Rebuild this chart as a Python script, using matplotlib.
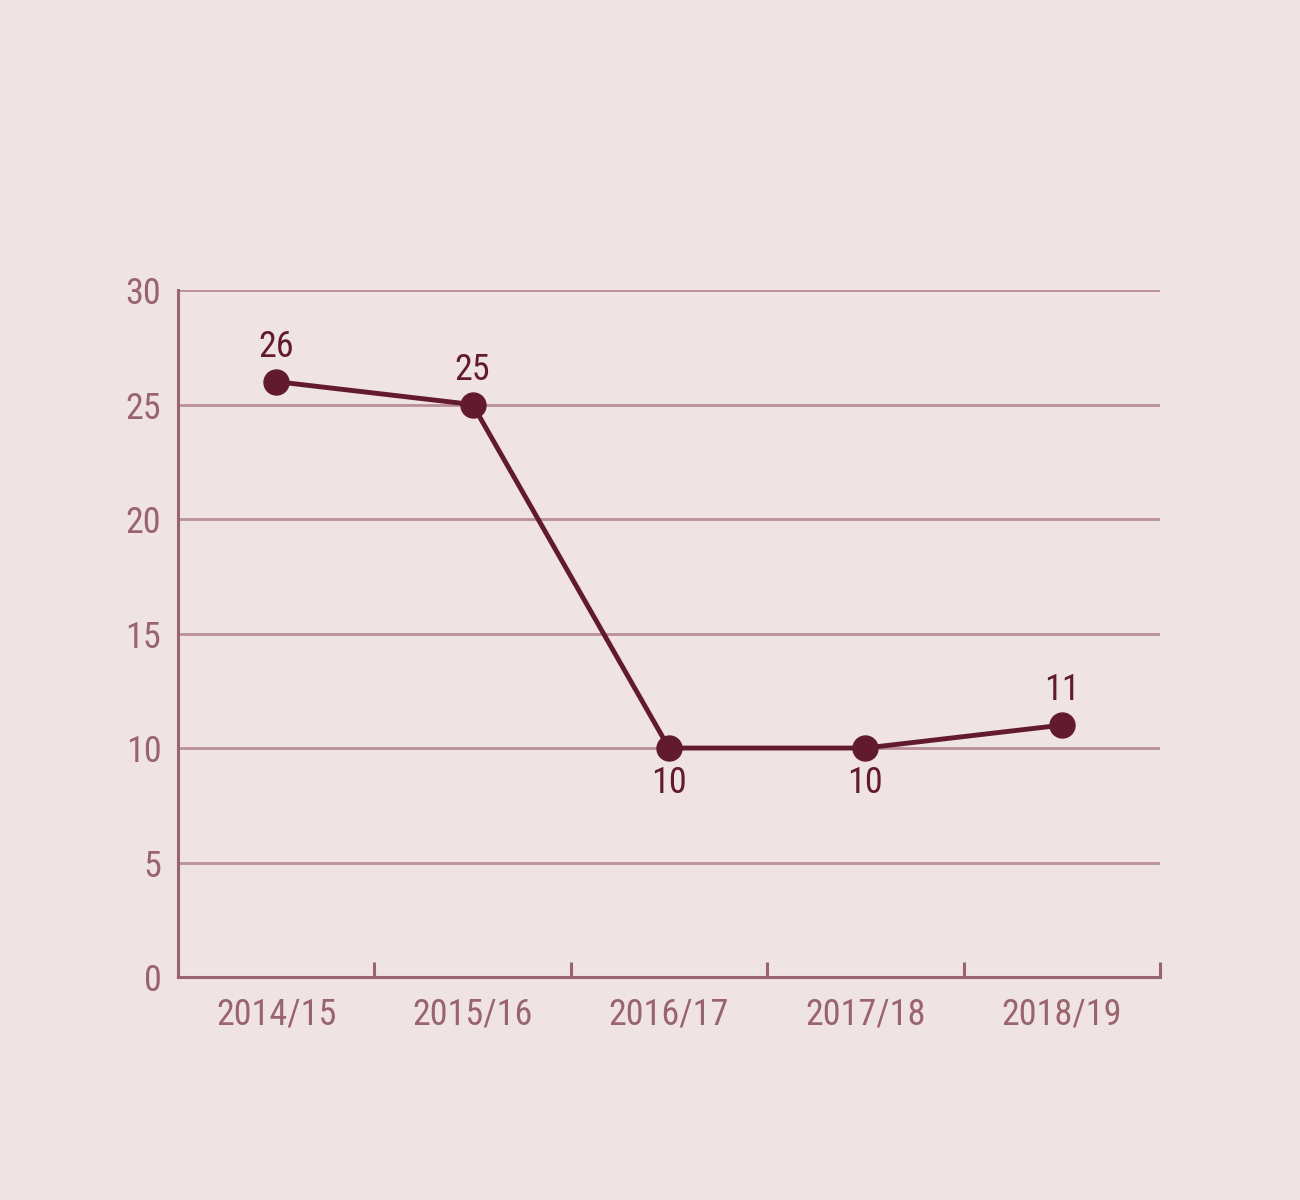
import matplotlib.pyplot as plt
from matplotlib import font_manager

BG = '#EFE3E3'
GRID = '#B89096'
AXIS = '#9A646E'
LINE = '#621A30'

seasons = ['2014/15', '2015/16', '2016/17', '2017/18', '2018/19']
values = [26, 25, 10, 10, 11]
label_above = [True, True, False, False, True]

names = {f.name for f in font_manager.fontManager.ttflist}
narrow = [n for n in ['Liberation Sans Narrow', 'Roboto Condensed', 'Open Sans Condensed'] if n in names]
family = narrow[0] if narrow else 'Liberation Sans'
plt.rcParams['font.family'] = [family, 'DejaVu Sans']

fig = plt.figure(figsize=(13, 12), dpi=100, facecolor=BG)
ax = fig.add_axes([0.1369, 0.1858, 0.7554, 0.5725])
ax.set_facecolor(BG)

x = list(range(len(seasons)))
ax.plot(x, values, color=LINE, linewidth=3.5, marker='o', markersize=18, zorder=3)

for xi, v, above in zip(x, values, label_above):
    off = 25 if above else -25
    ax.annotate(str(v), (xi, v), xytext=(0, off), textcoords='offset points',
                ha='center', va='center', fontsize=26, color=LINE)

ax.set_xlim(-0.5, len(seasons) - 0.5)
ax.set_ylim(0, 30)
ax.set_yticks(range(0, 31, 5))
ax.set_xticks(x)
ax.set_xticklabels(seasons)
ax.set_xticks([i - 0.5 for i in range(len(seasons) + 1)], minor=True)

ax.grid(axis='y', color=GRID, linewidth=2)
ax.set_axisbelow(True)

for side in ['top', 'right']:
    ax.spines[side].set_visible(False)
for side in ['left', 'bottom']:
    ax.spines[side].set_color(AXIS)
    ax.spines[side].set_linewidth(2.2)

ax.tick_params(axis='y', length=0, pad=12, labelsize=26, labelcolor=AXIS)
ax.tick_params(axis='x', which='major', length=0, pad=14, labelsize=26, labelcolor=AXIS)
ax.tick_params(axis='x', which='minor', direction='in', length=11, width=2.2, color=AXIS)

fig.savefig('out.png', dpi=100, facecolor=BG)
